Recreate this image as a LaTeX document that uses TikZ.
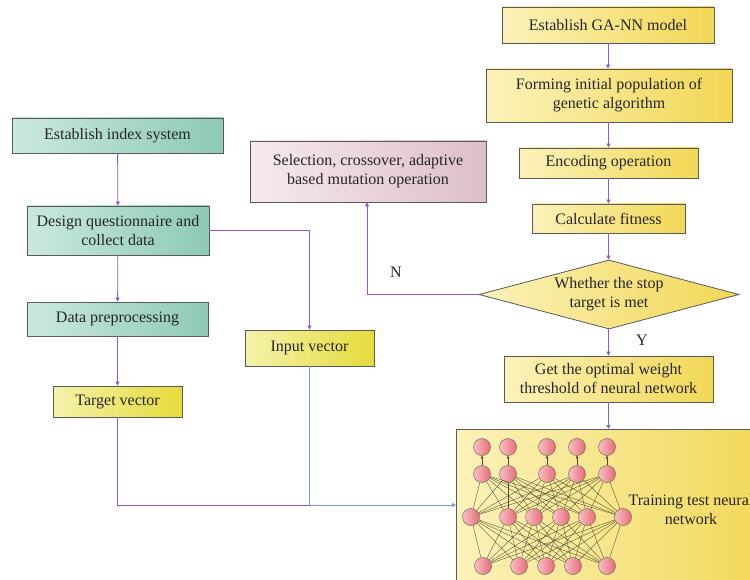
\documentclass[tikz,border=0pt]{standalone}
\usepackage{fontspec}
\setmainfont{Liberation Serif}
\usetikzlibrary{shapes.geometric,arrows.meta}
\definecolor{gl}{HTML}{CBE8E0}
\definecolor{gr}{HTML}{8DCAB3}
\definecolor{yl}{HTML}{FBF2BA}
\definecolor{yr}{HTML}{F2D755}
\definecolor{vl}{HTML}{F4F2AB}
\definecolor{vr}{HTML}{E5DB3A}
\definecolor{pl}{HTML}{F6EAEE}
\definecolor{pr}{HTML}{DDBFC7}
\definecolor{cl}{HTML}{F9C0C5}
\definecolor{cr}{HTML}{E86A78}
\definecolor{bord}{HTML}{5A5A5A}
\definecolor{purp}{HTML}{9457CC}
\definecolor{bl}{HTML}{6F9EF0}
\definecolor{netc}{HTML}{4A4A30}
\begin{document}
\begin{tikzpicture}[x=1pt,y=-1pt,
  box/.style={draw=bord, line width=0.8pt, rectangle, inner sep=0pt, align=center,
    font=\fontsize{16}{19}\selectfont, text=black!85},
  greenbox/.style={box, left color=gl, right color=gr},
  gabox/.style={box, left color=yl, right color=yr},
  vecbox/.style={box, left color=vl, right color=vr},
  pinkbox/.style={box, left color=pl, right color=pr},
  conn/.style={draw=purp, line width=0.8pt, -{Triangle[length=4pt,width=4pt]}},
  plain/.style={draw=purp, line width=0.8pt},
  bconn/.style={draw=bl, line width=0.8pt, -{Triangle[length=4pt,width=4pt]}},
  bplain/.style={draw=bl, line width=0.8pt},
  neuron/.style={circle, minimum size=17pt, inner sep=0pt, draw=netc!80, line width=0.5pt, left color=cl, right color=cr},
  wire/.style={draw=netc, line width=0.35pt},
  upwire/.style={draw=netc, line width=0.4pt, -{Triangle[length=2.5pt,width=2.5pt]}},
  dots/.style={font=\fontsize{6}{6}\selectfont, text=gray, inner sep=0pt},
  lbl/.style={font=\fontsize{16}{19}\selectfont, text=black!85, inner sep=0pt}
]
\clip (0,0) rectangle (750,580);
\fill[white] (0,0) rectangle (750,580);

% left column
\node[greenbox, minimum width=211pt, minimum height=35pt] (idx) at (117.5,135.5) {Establish index system};
\node[greenbox, minimum width=182pt, minimum height=49pt] (des) at (118,230.5) {Design questionnaire and\\collect data};
\node[greenbox, minimum width=181pt, minimum height=34pt] (pre) at (117.5,319) {Data preprocessing};
\node[vecbox, minimum width=129pt, minimum height=31pt] (tgt) at (117.5,401.5) {Target vector};
\node[vecbox, minimum width=129pt, minimum height=36pt] (inp) at (309.5,348) {Input vector};

% right column
\node[pinkbox, minimum width=236pt, minimum height=61pt] (sel) at (368,171.5) {Selection, crossover, adaptive\\based mutation operation};
\node[gabox, minimum width=212pt, minimum height=36pt] (ga) at (608,25) {Establish GA-NN model};
\node[gabox, minimum width=246pt, minimum height=53pt] (form) at (609,95.5) {Forming initial population of\\genetic algorithm};
\node[gabox, minimum width=179pt, minimum height=30pt] (enc) at (608.5,163) {Encoding operation};
\node[gabox, minimum width=153pt, minimum height=29pt] (fit) at (608.5,218.5) {Calculate fitness};
\node[box, diamond, aspect=3.77, left color=yl, right color=yr, minimum width=260pt, minimum height=69pt] (dia) at (609,294.5) {};
\node[lbl, align=center] (diat) at (609,294.5) {Whether the stop\\target is met};
\node[gabox, minimum width=209pt, minimum height=46pt] (opt) at (608.5,379) {Get the optimal weight\\threshold of neural network};

% neural network box
\node[box, left color=yl, right color=yr, minimum width=320pt, minimum height=170pt, anchor=north west] (nn) at (456,429) {};
\node[lbl, align=center] (nnt) at (691,509.5) {Training test neural\\network};

% neurons
\foreach \x [count=\i] in {482,508,547,577,607} {
  \node[neuron] (a\i) at (\x,447) {};
  \node[neuron] (b\i) at (\x,474) {};
}
\foreach \x [count=\i] in {471,508,534,561,587,623} {
  \node[neuron] (c\i) at (\x,517) {};
}
\foreach \x [count=\i] in {483,519,546,573,607} {
  \node[neuron] (d\i) at (\x,566) {};
}
\node[dots] (da) at (527,447) {$\cdots$};
\node[dots] (db) at (527,474) {$\cdots$};
\node[dots] (dc1) at (491,517) {$\cdots$};
\node[dots] (dc2) at (605,517) {$\cdots$};
\node[dots] (dd1) at (501,566) {$\cdots$};
\node[dots] (dd2) at (590,566) {$\cdots$};

\foreach \i in {1,...,5} {
  \draw[upwire] (b\i) -- (a\i);
  \foreach \j in {1,...,6} {
    \draw[wire] (b\i) -- (c\j);
    \draw[wire] (d\i) -- (c\j);
  }
}

% connectors left
\draw[conn] (idx) -- (des);
\draw[conn] (des) -- (pre);
\draw[conn] (pre) -- (tgt);
\draw[conn] (des.east |- 0,230) -| (inp.north);
\coordinate (j) at (inp.south |- 0,505);
\draw[plain] (tgt.south) |- (j);
\draw[bplain] (inp.south) -- (j);
\draw[bconn] (j) -- (j -| nn.west);

% connectors right
\draw[conn] (ga) -- (ga |- form.north);
\draw[conn] (form.south -| enc) -- (enc);
\draw[conn] (enc) -- (fit);
\draw[conn] (fit) -- (fit |- dia.north);
\draw[conn] (dia.south -| opt) -- (opt);
\draw[conn] (opt.south) -- (opt.south |- nn.north);
\draw[conn] (dia.west) -| (367,0 |- sel.south);
\node[lbl] (nlab) at (396,272) {N};
\node[lbl] (ylab) at (642,340) {Y};
\end{tikzpicture}
\end{document}
